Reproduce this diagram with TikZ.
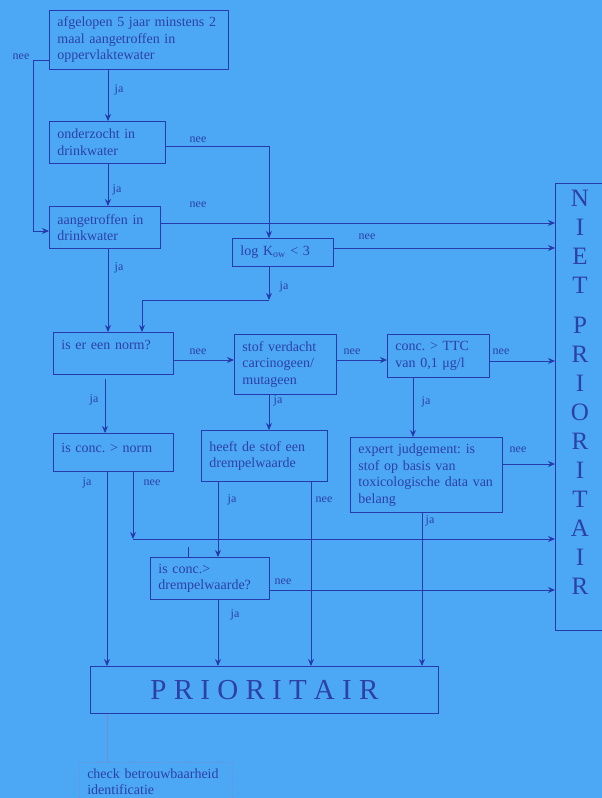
\documentclass[tikz,border=0pt]{standalone}
\usepackage{fontspec}
\setmainfont{Liberation Serif}
\usetikzlibrary{arrows.meta}
\definecolor{achtergrond}{RGB}{76,168,245}
\definecolor{lijn}{RGB}{38,58,172}
\definecolor{tekst}{RGB}{44,64,168}
\tikzstyle{blok} = [rectangle, draw=lijn, line width=0.9pt, anchor=north west, align=left, inner xsep=8pt, inner ysep=3pt, text=tekst, font=\fontsize{14}{16.5}\selectfont]
\tikzstyle{antw} = [inner sep=0pt, text=tekst, font=\fontsize{12}{14}\selectfont]
\tikzstyle{arrow} = [line width=0.9pt, draw=lijn, ->, >={Stealth[length=7pt,width=6pt]}]
\tikzstyle{lijnstuk} = [line width=0.9pt, draw=lijn]
\frenchspacing
\begin{document}
\begin{tikzpicture}[x=1pt, y=-1pt]
	\useasboundingbox (0,0) rectangle (602,798);
	\fill [achtergrond] (0,0) rectangle (602,798);

	\node (opp) [blok, text width=163pt, minimum height=59pt] at (49,10) {afgelopen 5 jaar minstens 2\\ maal aangetroffen in\\ oppervlaktewater};
	\node (onderzocht) [blok, text width=100pt, minimum height=42pt] at (49,121) {onderzocht in\\ drinkwater};
	\node (aangetroffen) [blok, text width=95pt, minimum height=42pt] at (49,206) {aangetroffen in\\ drinkwater};
	\node (logkow) [blok, text width=85pt, minimum height=28pt] at (232,238) {log K\textsubscript{ow} < 3};
	\node (norm) [blok, text width=104pt, minimum height=42pt, text depth=18pt] at (53,332) {is er een norm?};
	\node (verdacht) [blok, text width=86pt, minimum height=60pt] at (234,334) {stof verdacht\\ carcinogeen/\\ mutageen};
	\node (ttc) [blok, text width=86pt, minimum height=43pt] at (387,334) {conc. > TTC\\ van 0,1 μg/l};
	\node (normconc) [blok, text width=104pt, minimum height=38pt, text depth=10pt] at (53,433) {is conc. > norm};
	\node (drempel) [blok, text width=110pt, minimum height=51pt] at (201,430) {heeft de stof een\\ drempelwaarde};
	\node (expert) [blok, text width=136pt, minimum height=75pt] at (350,437) {expert judgement: is\\ stof op basis van\\ toxicologische data van\\ belang};
	\node (drempelconc) [blok, text width=103pt, minimum height=42pt] at (150,557) {is conc.>\\ drempelwaarde?};
	\node (prio) [blok, minimum width=348pt, minimum height=47pt, align=center, font=\fontsize{29}{32}\selectfont] at (90,666) {P R I O R I T A I R};
	\node (niet) [blok, minimum width=52pt, minimum height=447pt] at (555,183) {};
	\node (niettekst) [inner sep=0pt, text=tekst, align=center, font=\fontsize{25}{29}\selectfont] at (580,392) {N\\I\\E\\T\\[11pt]P\\R\\I\\O\\R\\I\\T\\A\\I\\R};
	\node (check) [blok, draw=lijn!60, dotted, line width=0.5pt, text width=137pt, minimum height=39pt] at (79,762) {check betrouwbaarheid\\ identificatie};

	\node (nee1) [antw] at (21,57) {nee};
	\node (ja1) [antw] at (119,90) {ja};
	\node (ja2) [antw] at (117,190) {ja};
	\node (nee2) [antw] at (198,140) {nee};
	\node (nee3) [antw] at (198,205) {nee};
	\node (nee4) [antw] at (367,237) {nee};
	\node (ja3) [antw] at (284,287) {ja};
	\node (ja4) [antw] at (119,268) {ja};
	\node (nee5) [antw] at (198,352) {nee};
	\node (nee6) [antw] at (352,352) {nee};
	\node (nee7) [antw] at (501,352) {nee};
	\node (ja5) [antw] at (278,401) {ja};
	\node (ja6) [antw] at (426,402) {ja};
	\node (nee8) [antw] at (518,450) {nee};
	\node (ja7) [antw] at (430,521) {ja};
	\node (ja8) [antw] at (94,400) {ja};
	\node (ja9) [antw] at (87,483) {ja};
	\node (nee9) [antw] at (152,483) {nee};
	\node (ja10) [antw] at (232,500) {ja};
	\node (nee10) [antw] at (324,500) {nee};
	\node (nee11) [antw] at (283,582) {nee};
	\node (ja11) [antw] at (235,615) {ja};

	\coordinate (knikja) at (269,300);
	\coordinate (kniknee) at (133,539);

	\draw [arrow] (opp.west |- 0,60) -- (33,60) |- (aangetroffen.west |- 0,231);
	\draw [arrow] (opp.south -| 108,0) -- (onderzocht.north -| 108,0);
	\draw [arrow] (onderzocht.south -| 108,0) -- (aangetroffen.north -| 108,0);
	\draw [arrow] (onderzocht.east |- 0,146) -| (logkow.north -| 269,0);
	\draw [arrow] (aangetroffen.east |- 0,223) -- (niet.west |- 0,223);
	\draw [arrow] (logkow.east |- 0,248) -- (niet.west |- 0,248);
	\draw [arrow] (logkow.south -| knikja) -- (knikja);
	\draw [arrow] (knikja) -| (norm.north -| 142,0);
	\draw [arrow] (aangetroffen.south -| 108,0) -- (norm.north -| 108,0);
	\draw [arrow] (norm.east |- 0,360) -- (verdacht.west |- 0,360);
	\draw [arrow] (verdacht.east |- 0,360) -- (ttc.west |- 0,360);
	\draw [arrow] (ttc.east |- 0,361) -- (niet.west |- 0,361);
	\draw [arrow] (ttc.south -| 413,0) -- (expert.north -| 413,0);
	\draw [arrow] (expert.east |- 0,464) -- (niet.west |- 0,464);
	\draw [arrow] (expert.south -| 422,0) -- (prio.north -| 422,0);
	\draw [arrow] (norm.south -| 105,0) ++(0,4) -- (normconc.north -| 105,0);
	\draw [arrow] (normconc.south -| 107,0) -- (prio.north -| 107,0);
	\draw [arrow] (normconc.south -| kniknee) -- (kniknee);
	\draw [arrow] (kniknee) -- (niet.west |- kniknee);
	\draw [arrow] (verdacht.south -| 269,0) -- (drempel.north -| 269,0);
	\draw [arrow] (drempel.south -| 218,0) -- (drempelconc.north -| 218,0);
	\draw [arrow] (drempel.south -| 311,0) -- (prio.north -| 311,0);
	\draw [arrow] (drempelconc.east |- 0,590) -- (niet.west |- 0,590);
	\draw [arrow] (drempelconc.south -| 218,0) -- (prio.north -| 218,0);
	\draw [lijnstuk] (drempelconc.north -| 188,0) -- ++(0,-10);
	\draw [lijnstuk, draw=lijn!60, line width=0.5pt] (prio.south -| 107,0) -- (check.north -| 107,0);
\end{tikzpicture}
\end{document}
